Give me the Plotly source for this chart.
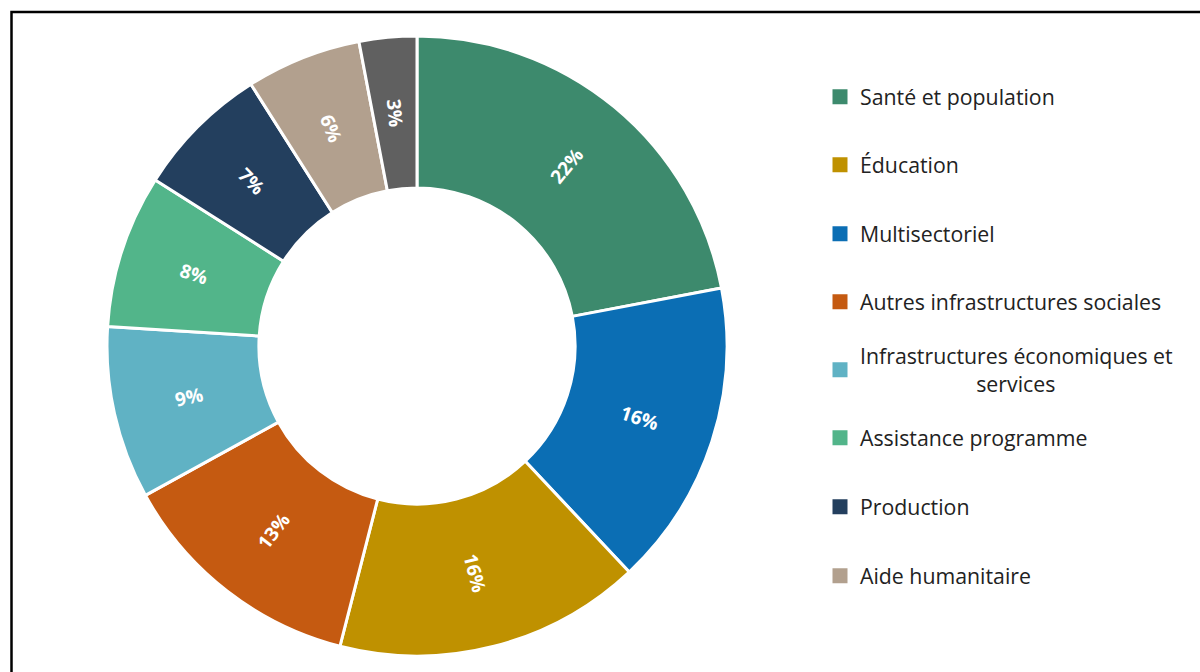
import math
import plotly.graph_objects as go

# Slices in clockwise order from 12 o'clock
slice_labels = ["Santé et population", "Multisectoriel", "Éducation",
                "Autres infrastructures sociales",
                "Infrastructures économiques et services",
                "Assistance programme", "Production", "Aide humanitaire", "Autres"]
slice_values = [22, 16, 16, 13, 9, 8, 7, 6, 3]
slice_colors = ["#3d8a6d", "#0b6eb4", "#bf9100", "#c55a11", "#60b2c4",
                "#52b58a", "#233f5e", "#b2a08e", "#606060"]

# Legend entries (in legend order)
legend_labels = ["Santé et population", "Éducation", "Multisectoriel",
                 "Autres infrastructures sociales",
                 "Infrastructures économiques et<br>" + "\u00a0" * 21 + "services",
                 "Assistance programme", "Production", "Aide humanitaire"]
legend_colors = ["#3d8a6d", "#bf9100", "#0b6eb4", "#c55a11", "#60b2c4",
                 "#52b58a", "#233f5e", "#b2a08e"]

W, H = 1200, 672
FONT = "Open Sans"
HOLE = 0.51

# pie geometry (pixels)
CX, CY, R = 417, 346, 310

fig = go.Figure()
fig.add_trace(go.Pie(
    labels=slice_labels,
    values=slice_values,
    sort=False,
    direction="clockwise",
    rotation=0,
    hole=HOLE,
    marker=dict(colors=slice_colors, line=dict(color="white", width=3)),
    textinfo="none",
    showlegend=False,
    hoverinfo="label+percent",
    domain=dict(x=[(CX - R) / W, (CX + R) / W], y=[1 - (CY + R) / H, 1 - (CY - R) / H]),
))

# radial percentage labels at the middle of the ring
total = sum(slice_values)
r_mid = R * (1 + HOLE) / 2
annotations = []
cum = 0
for v in slice_values:
    b = 360 * (cum + v / 2) / total  # bearing, clockwise from north
    cum += v
    rad = math.radians(b)
    px = CX + r_mid * math.sin(rad)
    py = CY - r_mid * math.cos(rad)
    ang = b - 90
    while ang > 90:
        ang -= 180
    while ang < -90:
        ang += 180
    annotations.append(dict(
        x=px / W, y=1 - py / H, xref="paper", yref="paper",
        text=f"{v}%", showarrow=False, textangle=ang,
        xanchor="center", yanchor="middle",
        font=dict(family=FONT, size=19, color="white", weight="bold"),
    ))

legend_y_px = [97, 165, 234, 302, 370, 438, 507, 576]
layout_legends = {}
for i, (lab, col) in enumerate(zip(legend_labels, legend_colors)):
    key = "legend" if i == 0 else f"legend{i + 1}"
    fig.add_trace(go.Scatter(
        x=[None], y=[None], mode="markers", name=lab,
        marker=dict(symbol="square", size=15, color=col),
        legend=key, showlegend=True,
    ))
    layout_legends[key] = dict(
        x=820 / W, xanchor="left",
        y=1 - legend_y_px[i] / H, yanchor="middle",
        bgcolor="rgba(0,0,0,0)", borderwidth=0,
        font=dict(family=FONT, size=21.3, color="#222222"),
    )

fig.update_layout(
    width=W, height=H,
    margin=dict(l=0, r=0, t=0, b=0),
    paper_bgcolor="white", plot_bgcolor="white",
    xaxis=dict(visible=False), yaxis=dict(visible=False),
    annotations=annotations,
    shapes=[dict(type="rect", xref="paper", yref="paper",
                 x0=11.5 / W, x1=1.05, y0=-0.05, y1=1 - 12 / H,
                 line=dict(color="black", width=2.5))],
    **layout_legends,
)

fig.write_html("out.html")
